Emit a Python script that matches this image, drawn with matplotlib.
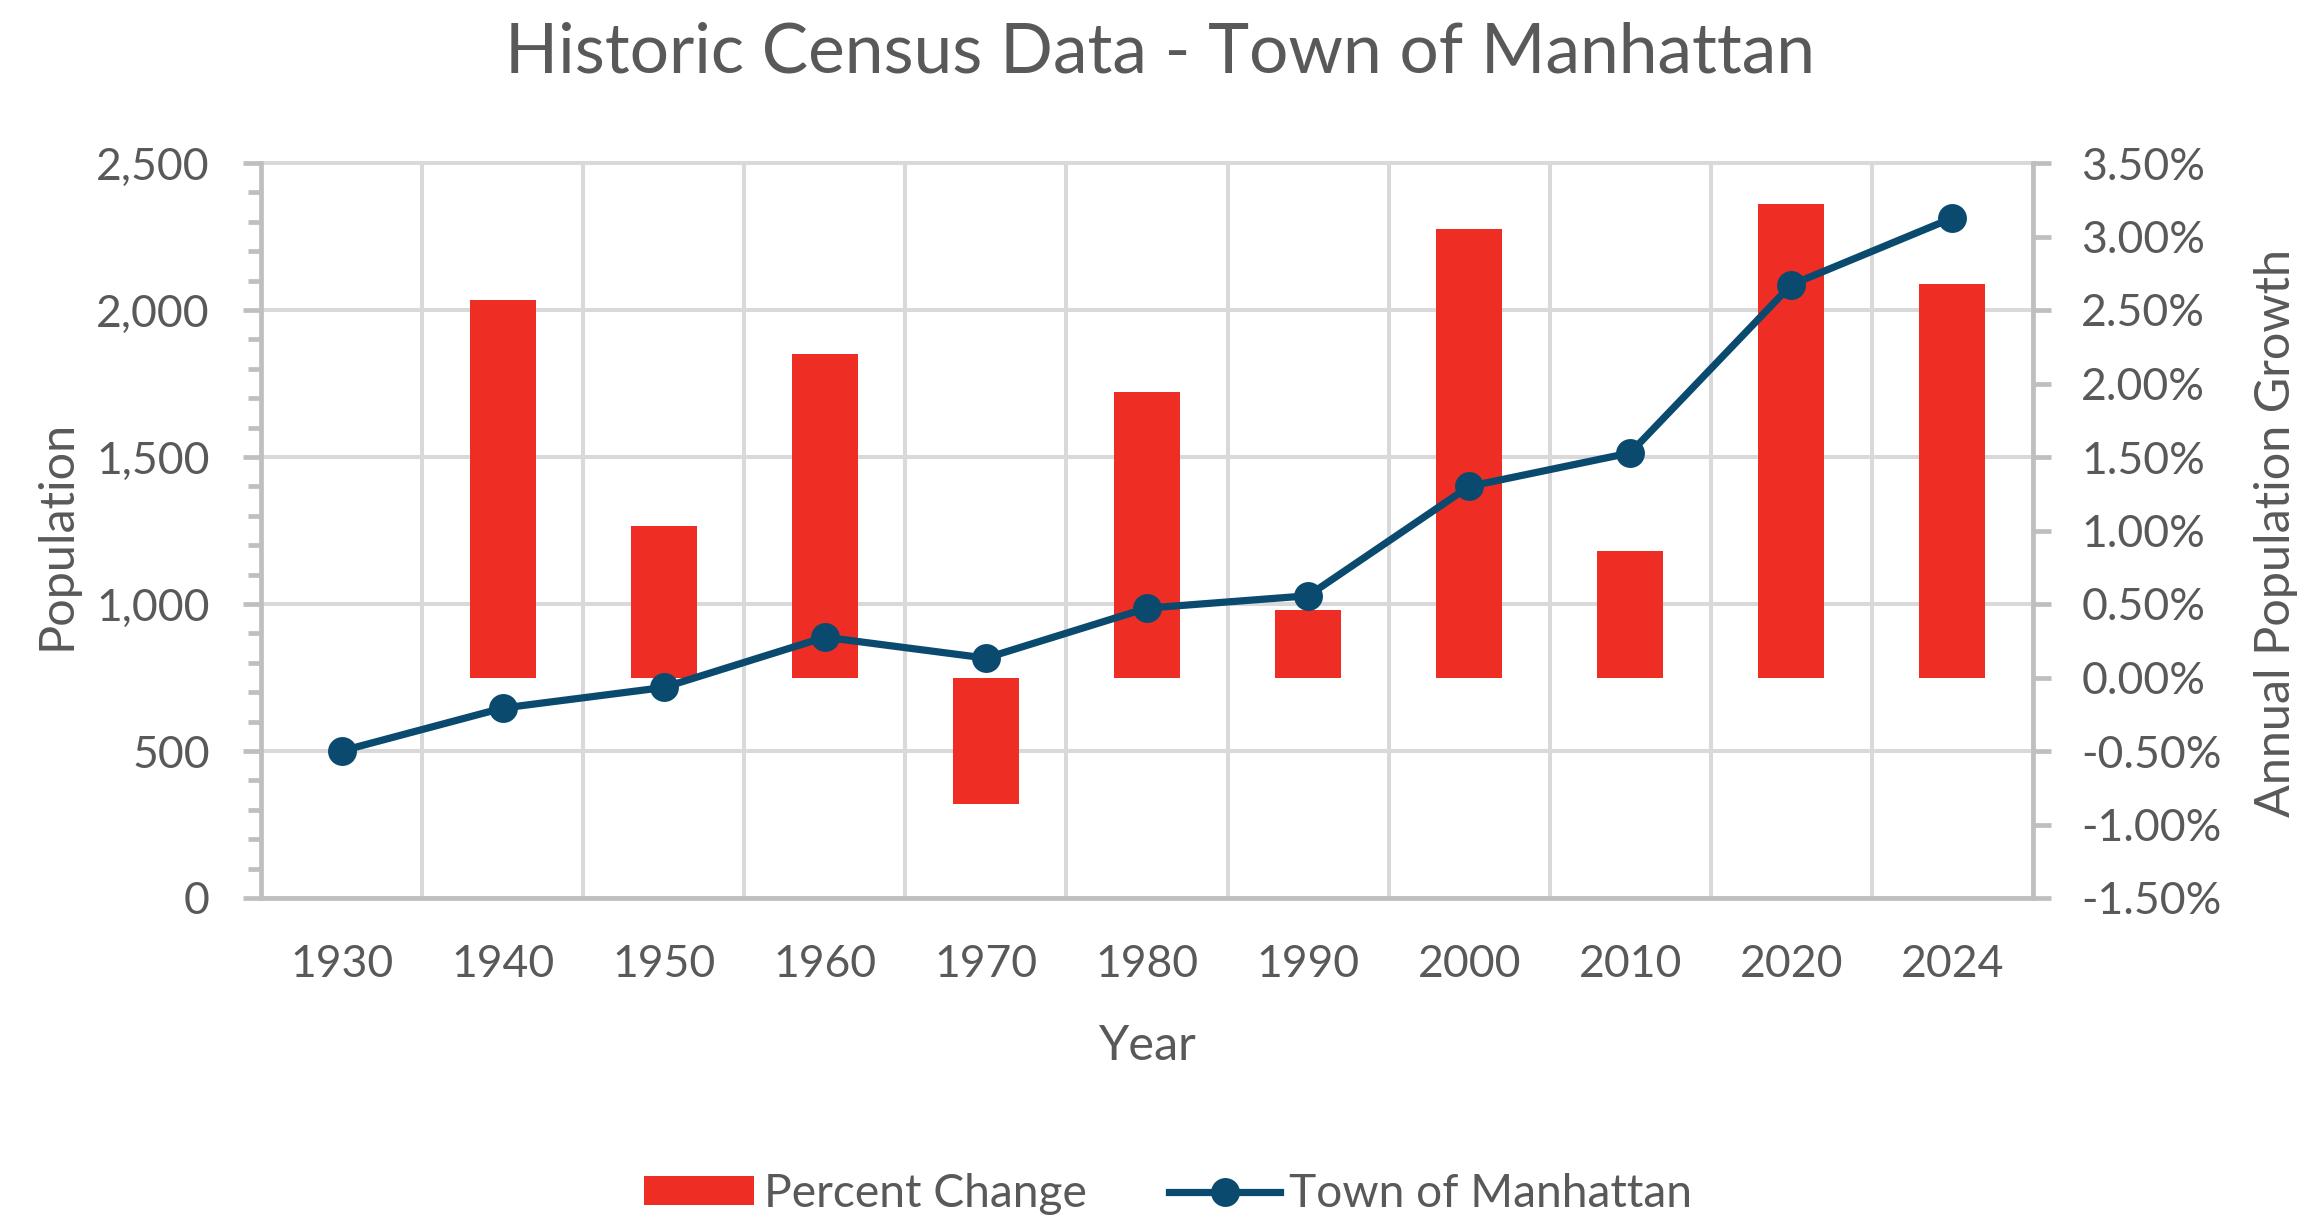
import numpy as np
import matplotlib
matplotlib.use("Agg")
import matplotlib.pyplot as plt
from matplotlib.ticker import FuncFormatter, MultipleLocator

# values
years = ['1930', '1940', '1950', '1960', '1970', '1980', '1990', '2000', '2010', '2020', '2024']
population = [500, 646, 716, 887, 816, 986, 1028, 1400, 1514, 2086, 2313]
percent_change = [np.nan, 2.57, 1.03, 2.20, -0.86, 1.94, 0.46, 3.05, 0.86, 3.22, 2.68]

RED = '#EE2E24'
NAVY = '#0A4A6E'
TEXT = '#595959'
GRID = '#D9D9D9'
SPINE = '#BFBFBF'

plt.rcParams['font.family'] = ['Lato', 'DejaVu Sans']
plt.rcParams['font.size'] = 16
plt.rcParams['text.color'] = TEXT

W, H = 2300, 1215
fig = plt.figure(figsize=(11.5, 6.075), dpi=200)
ax = fig.add_axes([261 / W, 1 - 898 / H, 1772 / W, 735 / H])
x = np.arange(len(years))

# left axis: population
ax.set_xlim(-0.5, len(years) - 0.5)
ax.set_ylim(0, 2500)
ax.yaxis.set_major_locator(MultipleLocator(500))
ax.yaxis.set_minor_locator(MultipleLocator(100))
ax.yaxis.set_major_formatter(FuncFormatter(lambda v, p: f'{v:,.0f}'))
ax.set_xticks(x)
ax.set_xticklabels(years)
ax.set_xticks(np.arange(-0.5, len(years)), minor=True)
ax.grid(axis='x', which='minor', color=GRID, linewidth=1.45)
ax.grid(axis='y', which='major', color=GRID, linewidth=1.45)
for gl in ax.get_ygridlines():
    gl.set_clip_on(False)
ax.set_axisbelow(True)
ax.tick_params(axis='x', which='both', length=0, pad=16.5, labelcolor=TEXT, labelsize=16)
ax.tick_params(axis='y', which='major', length=6.4, width=1.7, color=SPINE, pad=12,
               labelcolor=TEXT, labelsize=16)
ax.tick_params(axis='y', which='minor', length=4.6, width=1.7, color=SPINE)
for side in ['top', 'right']:
    ax.spines[side].set_visible(False)
for side in ['left', 'bottom']:
    ax.spines[side].set_color(SPINE)
    ax.spines[side].set_linewidth(1.7)

# right axis: annual growth bars
ax2 = ax.twinx()
ax2.bar(x, percent_change, width=0.41, color=RED, label='Percent Change')
ax2.set_ylim(-1.5, 3.5)
ax2.yaxis.set_major_locator(MultipleLocator(0.5))
ax2.yaxis.set_major_formatter(FuncFormatter(lambda v, p: f'{v:.2f}%'))
ax2.tick_params(axis='y', length=6.4, width=1.7, color=SPINE, pad=11,
                labelcolor=TEXT, labelsize=16)
for side in ['top', 'left', 'bottom']:
    ax2.spines[side].set_visible(False)
ax2.spines['right'].set_color(SPINE)
ax2.spines['right'].set_linewidth(1.7)

# population line on top of the bars, same scale as the left axis
ax3 = ax.twinx()
ax3.set_ylim(ax.get_ylim())
ax3.plot(x, population, color=NAVY, linewidth=2.6, marker='o', markersize=9.4,
         label='Town of Manhattan')
ax3.set_axis_off()

# labels
fig.text(1160 / W, 1 - 72.7 / H, 'Historic Census Data - Town of Manhattan',
         ha='center', va='baseline', fontsize=25, color=TEXT)
ax.set_xlabel('Year', va='baseline', color=TEXT, fontsize=17.5)
ax.xaxis.set_label_coords(0.5, (898 - 1060) / 735)
ax.set_ylabel('Population', va='baseline', ha='center', color=TEXT, fontsize=17.5)
ax.yaxis.set_label_coords((70.7 - 261) / 1772, (898 - 534.5) / 735)
ax2.set_ylabel('Annual Population Growth', va='baseline', ha='center', rotation=90,
               color=TEXT, fontsize=17.5)
ax2.yaxis.set_label_coords((2290 - 261) / 1772, (898 - 533.3) / 735)

handles = ax2.get_legend_handles_labels()[0] + ax3.get_legend_handles_labels()[0]
labels = ['Percent Change', 'Town of Manhattan']
fig.legend(handles, labels, loc='center', bbox_to_anchor=(1168 / W, 1 - 1194 / H),
           ncol=2, frameon=False, fontsize=16.6, handlelength=2.4, handleheight=0.6,
           handletextpad=0.2, columnspacing=1.8, labelcolor=TEXT)

fig.savefig('out.png', dpi=200)
